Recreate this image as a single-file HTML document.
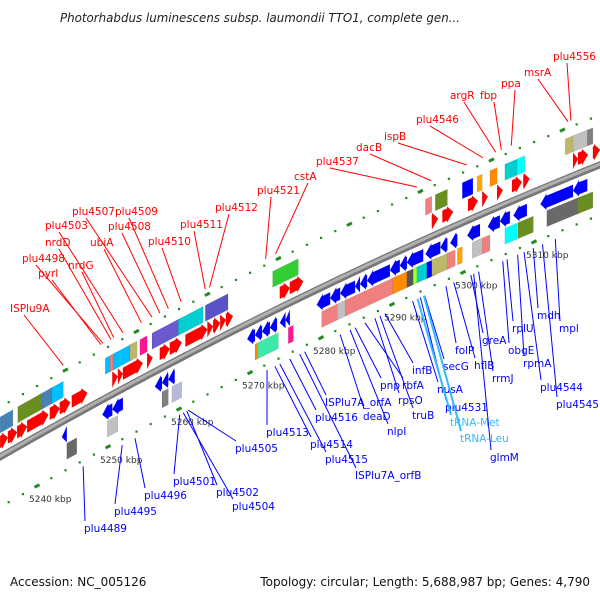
<!DOCTYPE html>
<html><head><meta charset="utf-8"><style>
html,body{margin:0;padding:0;background:#fff;}
svg{display:block;font-family:"DejaVu Sans","Liberation Sans",sans-serif;}
</style></head><body>
<svg id="chart" width="600" height="600" viewBox="0 0 600 600" xmlns="http://www.w3.org/2000/svg">
<text x="60" y="22" font-size="12" font-style="italic" fill="#222" textLength="400" lengthAdjust="spacingAndGlyphs">Photorhabdus luminescens subsp. laumondii TTO1, complete gen...</text>
<g id="ticks"></g>
<g id="backbone"></g>
<g id="feats"></g>
<g id="labels"></g>
<text x="10" y="586" font-size="12" fill="#111">Accession: NC_005126</text>
<text x="590" y="586" font-size="12" fill="#111" text-anchor="end">Topology: circular; Length: 5,688,987 bp; Genes: 4,790</text>
</svg>
<script>
// upper (plus strand) arrows: start kbp, end kbp
const redStarts=[5234.8,5235.9,5237.2,5238.6,5241.8,5243.2,5244.9,5250.6,5251.4,5252.1,5255.5,5257.3,5258.7,5260.9,5264.0,5264.8,5265.8,5266.6,5274.2,5275.6,5295.6,5297.1,5300.7,5302.7,5304.8,5306.9,5308.5,5315.5,5316.2,5318.3];
const redEnds=[5235.9,5237.2,5238.6,5241.6,5243.2,5244.7,5247.1,5251.4,5252.1,5254.9,5256.3,5258.7,5260.4,5264.0,5264.8,5265.8,5266.6,5267.6,5275.6,5277.5,5296.5,5298.6,5302.1,5303.5,5305.6,5308.3,5309.4,5316.2,5317.6,5319.3];
// upper boxes
const upStarts=[5234.8,5237.3,5240.7,5242.1,5249.6,5250.3,5250.7,5253.1,5254.5,5256.2,5259.9,5263.7,5273.2,5294.7,5296.1,5299.9,5302.0,5303.8,5305.9,5307.6,5314.4,5315.5,5317.5];
const upEnds=[5236.6,5240.8,5242.3,5243.7,5250.6,5251.3,5253.5,5254.1,5255.5,5260.1,5263.4,5266.9,5276.8,5295.6,5297.8,5301.4,5302.7,5304.8,5307.6,5308.7,5315.8,5317.5,5318.3];
const upColors=["#4682b4","#6b8e23","#4682b4","#00bfff","#00bfff","#f08080","#00bfff","#bdb76b","#ff1493","#6a5acd","#00ced1","#5a52c8","#32cd32","#f08080","#6b8e23","#0000ff","#ffa500","#ff8c00","#00ced1","#00ffff","#bdb76b","#c0c0c0","#808080"];
// lower (minus strand) arrows
const blueStarts=[5243.5,5249.2,5250.6,5256.6,5257.6,5258.5,5269.6,5270.7,5271.7,5272.8,5274.2,5275.0,5279.4,5281.3,5282.7,5284.8,5285.5,5286.5,5289.7,5291.1,5292.1,5294.7,5296.8,5298.2,5300.6,5303.5,5305.2,5307.1,5310.9,5315.5];
const blueEnds=[5244.2,5250.6,5252.1,5257.6,5258.5,5259.4,5270.7,5271.7,5272.8,5273.8,5275.0,5275.6,5281.3,5282.7,5284.8,5285.5,5286.5,5289.7,5291.1,5292.1,5294.4,5296.8,5297.8,5299.2,5302.4,5305.2,5306.6,5309.0,5315.5,5317.5];
// lower boxes
const loStarts=[5244.2,5249.9,5257.6,5259.0,5270.7,5271.1,5275.4,5280.1,5282.3,5283.4,5290.1,5292.1,5293.0,5293.5,5294.9,5295.6,5297.8,5299.2,5301.3,5302.7,5305.9,5307.7,5311.8,5316.1];
const loEnds=[5245.6,5251.4,5258.5,5260.4,5271.1,5274.0,5276.1,5282.3,5283.7,5290.7,5292.1,5293.0,5293.7,5295.4,5296.3,5298.2,5298.9,5299.9,5302.8,5303.8,5307.6,5309.9,5316.5,5318.3];
const loColors=["#696969","#c0c0c0","#808080","#b8b8d8","#ff8c00","#3ee8a8","#ff1493","#f08080","#c0c0c0","#f08080","#ff8c00","#555555","#adff2f","#00ced1","#0000ff","#bdb76b","#f08080","#ffa500","#c0c0c0","#f08080","#00ffff","#6b8e23","#696969","#6b8e23"];
const kbpTicks=[5240,5250,5260,5270,5280,5290,5300,5310];
const kbpLabels=["5240 kbp","5250 kbp","5260 kbp","5270 kbp","5280 kbp","5290 kbp","5300 kbp","5310 kbp"];
// red labels: text, text x, text y, gene kbp
const redNames=["ISPlu9A","pyrI","plu4498","nrdD","nrdG","plu4503","ubiA","plu4507","plu4508","plu4509","plu4510","plu4511","plu4512","plu4521","cstA","plu4537","dacB","ispB","plu4546","argR","fbp","ppa","msrA","plu4556"];
const redTX=[10,38,22,45,68,45,90,72,108,115,148,180,215,257,294,316,356,384,416,450,480,501,524,553];
const redTY=[312,277,262,246,269,229,246,215,230,215,245,228,211,194,180,165,151,140,123,99,99,87,76,60];
const redGene=[5243.7,5249.0,5249.3,5250.4,5250.8,5252.1,5254.7,5256.2,5257.3,5258.5,5260.3,5263.7,5264.3,5272.2,5273.6,5293.5,5295.5,5300.5,5302.8,5304.6,5305.4,5306.8,5314.8,5315.2];
const blueNames=["plu4489","plu4495","plu4496","plu4501","plu4502","plu4504","plu4505","plu4513","plu4514","plu4515","plu4516","ISPlu7A_orfB","ISPlu7A_orfA","deaD","nlpI","pnp","rbfA","rpsO","infB","truB","folP","secG","hflB","nusA","greA","plu4531","tRNA-Met","rrmJ","tRNA-Leu","rplU","obgE","glmM","rpmA","mdh","mpl","plu4544","plu4545"];
const blueTX=[84,114,144,173,216,232,235,266,310,325,315,355,325,363,387,380,402,398,412,412,455,443,474,437,482,445,450,492,460,512,508,490,523,537,559,540,556];
const blueTY=[532,515,499,485,496,510,452,436,448,463,421,479,406,420,435,389,389,404,374,419,354,370,369,393,344,411,426,382,442,332,354,461,367,319,332,391,408];
const blueGene=[5246.5,5252.0,5253.8,5260.1,5261.1,5260.6,5261.3,5272.4,5273.5,5274.2,5275.6,5277.0,5277.7,5282.7,5284.1,5284.8,5286.2,5287.6,5289.0,5288.3,5297.6,5294.6,5298.7,5292.9,5301.1,5294.0,5293.6,5302.2,5294.5,5306.2,5305.6,5301.5,5307.7,5309.9,5313.0,5308.6,5311.2];

const NS="http://www.w3.org/2000/svg";
function X(k){return 108+(k-5250)*7.1;}
function YB(x){return 457-0.5733*x+0.000144*x*x;}
function mk(tag,attrs,parent){const e=document.createElementNS(NS,tag);for(const a in attrs)e.setAttribute(a,attrs[a]);parent.appendChild(e);return e;}
const gT=document.getElementById('ticks'),gB=document.getElementById('backbone'),gF=document.getElementById('feats'),gL=document.getElementById('labels');

// backbone
let pts=[];for(let x=-5;x<=605;x+=5)pts.push(x+','+YB(x).toFixed(1));
let bb=mk('polyline',{points:pts.join(' '),fill:'none',stroke:'#777','stroke-width':7},gB);


let bb2=mk('polyline',{points:pts.map(p=>{const [a,b]=p.split(',');return a+','+(+b-0.8);}).join(' '),fill:'none',stroke:'#b0b0b0','stroke-width':3},gB);



// dotted tracks
for(const off of [-50,50]){
  for(let k=5232;k<=5322;k+=2){
    const x=X(k);if(x<0||x>600)continue;
    const d=mk('rect',{x:x-1,y:YB(x)+off-1,width:2.2,height:2.2,fill:'#228b22'},gT);
    
    
  }
}
function dash(k,off,name){
  const x=X(k),y=YB(x)+off;
  const l=mk('line',{x1:x-2.5,y1:y+1.3,x2:x+2.5,y2:y-1.3,stroke:'#228b22','stroke-width':3},gT);
  
  
}
for(let k=5234;k<=5320;k+=10)dash(k,-50,'upper-tick-mark');
kbpTicks.forEach((k,i)=>{
  dash(k,50,'kbp-tick-mark');
  const x=X(k);
  const t=mk('text',{x:x-8,y:YB(x)+66,'font-size':9,fill:'#333'},gT);
  t.textContent=kbpLabels[i];
  
  
});

function band(k1,k2,off,h){
  const x1=X(k1),x2=X(k2);
  return [[x1,YB(x1)+off-h],[x2,YB(x2)+off-h],[x2,YB(x2)+off+h],[x1,YB(x1)+off+h]];
}
function poly(p,fill,name){
  const e=mk('polygon',{points:p.map(q=>q[0].toFixed(1)+','+q[1].toFixed(1)).join(' '),fill:fill,stroke:'rgba(0,0,0,0.15)','stroke-width':0.5},gF);
  
  
  return e;
}
function arrow(k1,k2,off,dir,fill,name){
  const x1=X(k1),x2=X(k2),w=x2-x1,hl=Math.min(6,w);
  const h=6,hh=8;
  const y=x=>YB(x)+off;
  let p;
  if(dir>0){const xb=x2-hl;
    p=[[x1,y(x1)-h],[xb,y(xb)-h],[xb,y(xb)-hh],[x2,y(x2)],[xb,y(xb)+hh],[xb,y(xb)+h],[x1,y(x1)+h]];
  }else{const xb=x1+hl;
    p=[[x2,y(x2)-h],[xb,y(xb)-h],[xb,y(xb)-hh],[x1,y(x1)],[xb,y(xb)+hh],[xb,y(xb)+h],[x2,y(x2)+h]];
  }
  poly(p,fill,name);
}
redStarts.forEach((s,i)=>arrow(s,redEnds[i],-15,1,'#ff0000','forward-gene'));
upStarts.forEach((s,i)=>poly(band(s,upEnds[i],-32,8),upColors[i],'upper-feature'));
blueStarts.forEach((s,i)=>arrow(s,blueEnds[i],15,-1,'#0000ff','reverse-gene'));
loStarts.forEach((s,i)=>poly(band(s,loEnds[i],32,8),loColors[i],'lower-feature'));

// labels
redNames.forEach((n,i)=>{
  const gx=X(redGene[i]),gy=YB(gx)-56;
  const tx=redTX[i]+14,ty=redTY[i]+3;
  const l=mk('line',{x1:tx,y1:ty,x2:gx,y2:gy,stroke:'#ff0000','stroke-width':1},gL);
  
  
  const t=mk('text',{x:redTX[i],y:redTY[i],'font-size':10.5,fill:'#ff0000'},gL);
  t.textContent=n;
  
  
});
blueNames.forEach((n,i)=>{
  const gx=X(blueGene[i]),gy=YB(gx)+56;
  const light=n.startsWith('tRNA');
  const col=light?'#33bbff':'#0000ff';
  const tx=blueTX[i]+1,ty=blueTY[i]-11;
  const l=mk('line',{x1:gx,y1:gy,x2:tx,y2:ty,stroke:col,'stroke-width':light?2:1},gL);
  
  
  const t=mk('text',{x:blueTX[i],y:blueTY[i],'font-size':10.5,fill:col},gL);
  t.textContent=n;
  
  
});
</script>
</body></html>
